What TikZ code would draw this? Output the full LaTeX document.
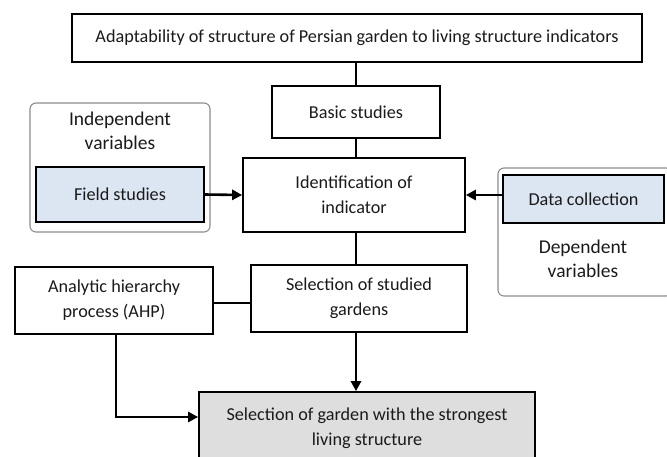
\documentclass[tikz,border=0pt]{standalone}
\usepackage{fontspec}
\setmainfont{Carlito}
\usetikzlibrary{arrows.meta}
\definecolor{fieldblue}{HTML}{DCE6F2}
\definecolor{finalgray}{HTML}{DEDEDE}
\definecolor{framegray}{HTML}{8C8C8C}
\definecolor{inkgray}{HTML}{1A1A1A}
\tikzset{
  box/.style={draw=black,line width=1.7pt,align=center,inner sep=2pt,text=inkgray,
    font=\fontsize{18.2}{25}\selectfont},
  group/.style={draw=framegray,line width=1.1pt,rounded corners=6pt},
  grouptext/.style={align=center,text=inkgray,font=\fontsize{19.5}{23.5}\selectfont},
  link/.style={line width=2.6pt},
  arrow/.style={link,-{Triangle[length=10pt,width=10pt]}}
}
\begin{document}
\begin{tikzpicture}[x=1pt,y=-1pt]
  \useasboundingbox (0,0) rectangle (667,456);
  % variable groups
  \draw[group] (30,103) rectangle (210,232);
  \draw[group] (498,168) rectangle (672,296);
  \node[grouptext] (indep) at (120,131) {Independent\\variables};
  \node[grouptext] (dep) at (583,259) {Dependent\\variables};
  % boxes
  \node[box,minimum width=570pt,minimum height=48pt] (goal) at (357,38)
    {Adaptability of structure of Persian garden to living structure indicators};
  \node[box,minimum width=168pt,minimum height=52pt] (basic) at (356,112) {Basic studies};
  \node[box,minimum width=222pt,minimum height=74pt] (ident) at (354,195)
    {Identification of\\indicator};
  \node[box,minimum width=216pt,minimum height=67pt] (select) at (359,298.5)
    {Selection of studied\\gardens};
  \node[box,minimum width=198pt,minimum height=67pt] (ahp) at (114,300.5)
    {Analytic hierarchy\\process (AHP)};
  \node[box,fill=fieldblue,minimum width=168pt,minimum height=55pt] (field) at (120,194.5)
    {Field studies};
  \node[box,fill=fieldblue,minimum width=161pt,minimum height=48pt] (data) at (583.5,199)
    {Data collection};
  \node[box,fill=finalgray,minimum width=336pt,minimum height=72pt] (final) at (367,428)
    {Selection of garden with the strongest\\living structure};
  % connectors
  \draw[link] (goal.south -| basic) -- (basic.north);
  \draw[link] (basic.south) -- (basic.south |- ident.north);
  \draw[link] (basic |- ident.south) -- (basic |- select.north);
  \draw[link] (ahp.east |- 0,303) -- (select.west |- 0,303);
  \draw[arrow] (basic |- select.south) -- (basic |- final.north);
  \draw[arrow] (field.east) -- (ident.west);
  \draw[arrow] (ident.east -| data.west) -- (ident.east);
  \draw[arrow] (116,334) |- ([yshift=11pt]final.west);
\end{tikzpicture}
\end{document}
